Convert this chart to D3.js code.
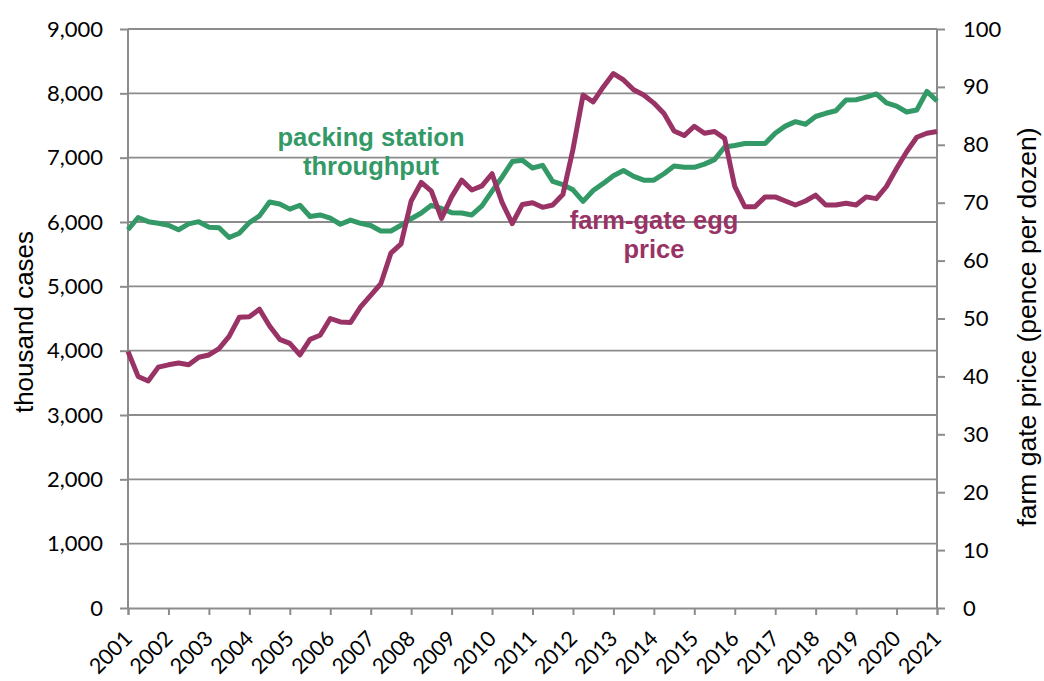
<!DOCTYPE html>
<html>
<head>
<meta charset="utf-8">
<script src="https://cdn.jsdelivr.net/npm/d3@7"></script>
<style>
  body { margin: 0; background: #fff; }
  svg { display: block; }
</style>
</head>
<body>
<div id="chart"></div>
<script>
// Year tick labels on the x axis
const years = d3.range(2001, 2022);

// Quarterly series, 2001 Q1 to 2021 Q1
// packing station throughput (thousand cases)
const throughput = [
  5880, 6070, 6005, 5980, 5950, 5880, 5970, 6005, 5920, 5910,
  5760, 5825, 5990, 6095, 6310, 6280, 6200, 6260, 6085, 6110,
  6060, 5965, 6030, 5980, 5945, 5860, 5860, 5950, 6050, 6140,
  6260, 6210, 6145, 6140, 6110, 6250, 6480, 6700, 6940, 6960,
  6840, 6880, 6630, 6580, 6500, 6320, 6490, 6600, 6720, 6800,
  6710, 6650, 6650, 6750, 6870, 6850, 6850, 6900, 6970, 7165,
  7190, 7220, 7220, 7220, 7380, 7490, 7560, 7520, 7640, 7690,
  7730, 7895, 7900, 7940, 7990, 7850, 7800, 7710, 7740, 8030,
  7880
];
// farm-gate egg price (pence per dozen)
const price = [
  44.3, 40.0, 39.2, 41.6, 42.0, 42.3, 42.0, 43.3, 43.7, 44.8,
  46.9, 50.2, 50.3, 51.6, 48.7, 46.4, 45.7, 43.7, 46.4, 47.1,
  50.0, 49.4, 49.3, 52.0, 54.0, 56.0, 61.3, 62.9, 70.3, 73.5,
  72.0, 67.3, 71.0, 73.9, 72.2, 72.9, 75.0, 70.0, 66.4, 69.7,
  70.0, 69.2, 69.6, 71.4, 79.2, 88.6, 87.4, 90.0, 92.3, 91.2,
  89.5, 88.6, 87.2, 85.4, 82.4, 81.6, 83.2, 82.0, 82.3, 81.1,
  72.8, 69.3, 69.3, 71.0, 71.0, 70.3, 69.6, 70.3, 71.3, 69.6,
  69.6, 69.9, 69.6, 71.0, 70.7, 72.8, 75.9, 78.8, 81.3, 82.0,
  82.3
];

const leftTicks = d3.range(0, 9001, 1000);
const rightTicks = d3.range(0, 101, 10);

const width = 1044, height = 681;
const margin = {top: 29, right: 107, bottom: 73, left: 128};

const green = "#339966";
const plum = "#993366";
const gridGrey = "#8c8c8c";

const svg = d3.select("#chart")
  .append("svg")
    .attr("width", width)
    .attr("height", height);

const x = d3.scaleLinear()
  .domain([years[0], years[years.length - 1]])
  .range([margin.left, width - margin.right]);

const yLeft = d3.scaleLinear()
  .domain([0, 9000])
  .range([height - margin.bottom, margin.top]);

const yRight = d3.scaleLinear()
  .domain([0, 100])
  .range([height - margin.bottom, margin.top]);

// quarter index -> fractional year
const qx = (d, i) => x(years[0] + i / 4);

// horizontal gridlines off the left axis
svg.append("g")
  .selectAll("line")
  .data(leftTicks.slice(1))
  .join("line")
    .attr("x1", margin.left)
    .attr("x2", width - margin.right)
    .attr("y1", d => yLeft(d))
    .attr("y2", d => yLeft(d))
    .attr("stroke", gridGrey)
    .attr("stroke-width", 1.8);

// Left axis
const leftAxis = svg.append("g")
  .attr("transform", `translate(${margin.left},0)`)
  .call(d3.axisLeft(yLeft).tickValues(leftTicks).tickFormat(d3.format(",")).tickSize(8).tickPadding(17));

// Right axis
const rightAxis = svg.append("g")
  .attr("transform", `translate(${width - margin.right},0)`)
  .call(d3.axisRight(yRight).tickValues(rightTicks).tickSize(8).tickPadding(18));

// Bottom axis
const bottomAxis = svg.append("g")
  .attr("transform", `translate(0,${height - margin.bottom})`)
  .call(d3.axisBottom(x).tickValues(years).tickFormat(d3.format("d")).tickSize(7));

[leftAxis, rightAxis, bottomAxis].forEach(ax => {
  ax.select(".domain").attr("stroke", gridGrey).attr("stroke-width", 2);
  ax.selectAll(".tick line").attr("stroke", gridGrey).attr("stroke-width", 2);
  ax.selectAll(".tick text")
    .attr("fill", "#000")
    .style("font-family", "Lato, 'Open Sans', sans-serif")
    .style("font-size", "22px");
});
leftAxis.select(".domain").attr("d", `M0,${yLeft(0)}V${yLeft(9000)}`);
rightAxis.select(".domain").attr("d", `M0,${yRight(0)}V${yRight(100)}`);

// rotated year labels
bottomAxis.selectAll(".tick text")
  .attr("text-anchor", "end")
  .attr("dy", null)
  .attr("y", null)
  .style("font-size", "21.5px")
  .attr("transform", "translate(5,32) rotate(-45)");

// Axis titles
svg.append("text")
  .attr("transform", `translate(33,${322}) rotate(-90)`)
  .attr("text-anchor", "middle")
  .style("font-family", "'Liberation Sans', Arial, sans-serif")
  .style("font-size", "26px")
  .text("thousand cases");

svg.append("text")
  .attr("transform", `translate(1036,${327}) rotate(-90)`)
  .attr("text-anchor", "middle")
  .style("font-family", "'Liberation Sans', Arial, sans-serif")
  .style("font-size", "26.5px")
  .text("farm gate price (pence per dozen)");

// Lines
const lineLeft = d3.line().x(qx).y(d => yLeft(d));
const lineRight = d3.line().x(qx).y(d => yRight(d));

svg.append("path")
  .datum(throughput)
  .attr("fill", "none")
  .attr("stroke", green)
  .attr("stroke-width", 5)
  .attr("stroke-linejoin", "round")
  .attr("d", lineLeft);

svg.append("path")
  .datum(price)
  .attr("fill", "none")
  .attr("stroke", plum)
  .attr("stroke-width", 5)
  .attr("stroke-linejoin", "round")
  .attr("d", lineRight);

// Series annotations
function label(lines, cx, y0, color) {
  const t = svg.append("text")
    .attr("text-anchor", "middle")
    .attr("fill", color)
    .style("font-family", "'Liberation Sans', Arial, sans-serif")
    .style("font-weight", "bold")
    .style("font-size", "25.5px");
  lines.forEach((s, i) => {
    t.append("tspan").attr("x", cx).attr("y", y0 + i * 29).text(s);
  });
}
label(["packing station", "throughput"], 371, 146, green);
label(["farm-gate egg", "price"], 654, 229, plum);
</script>
</body>
</html>
